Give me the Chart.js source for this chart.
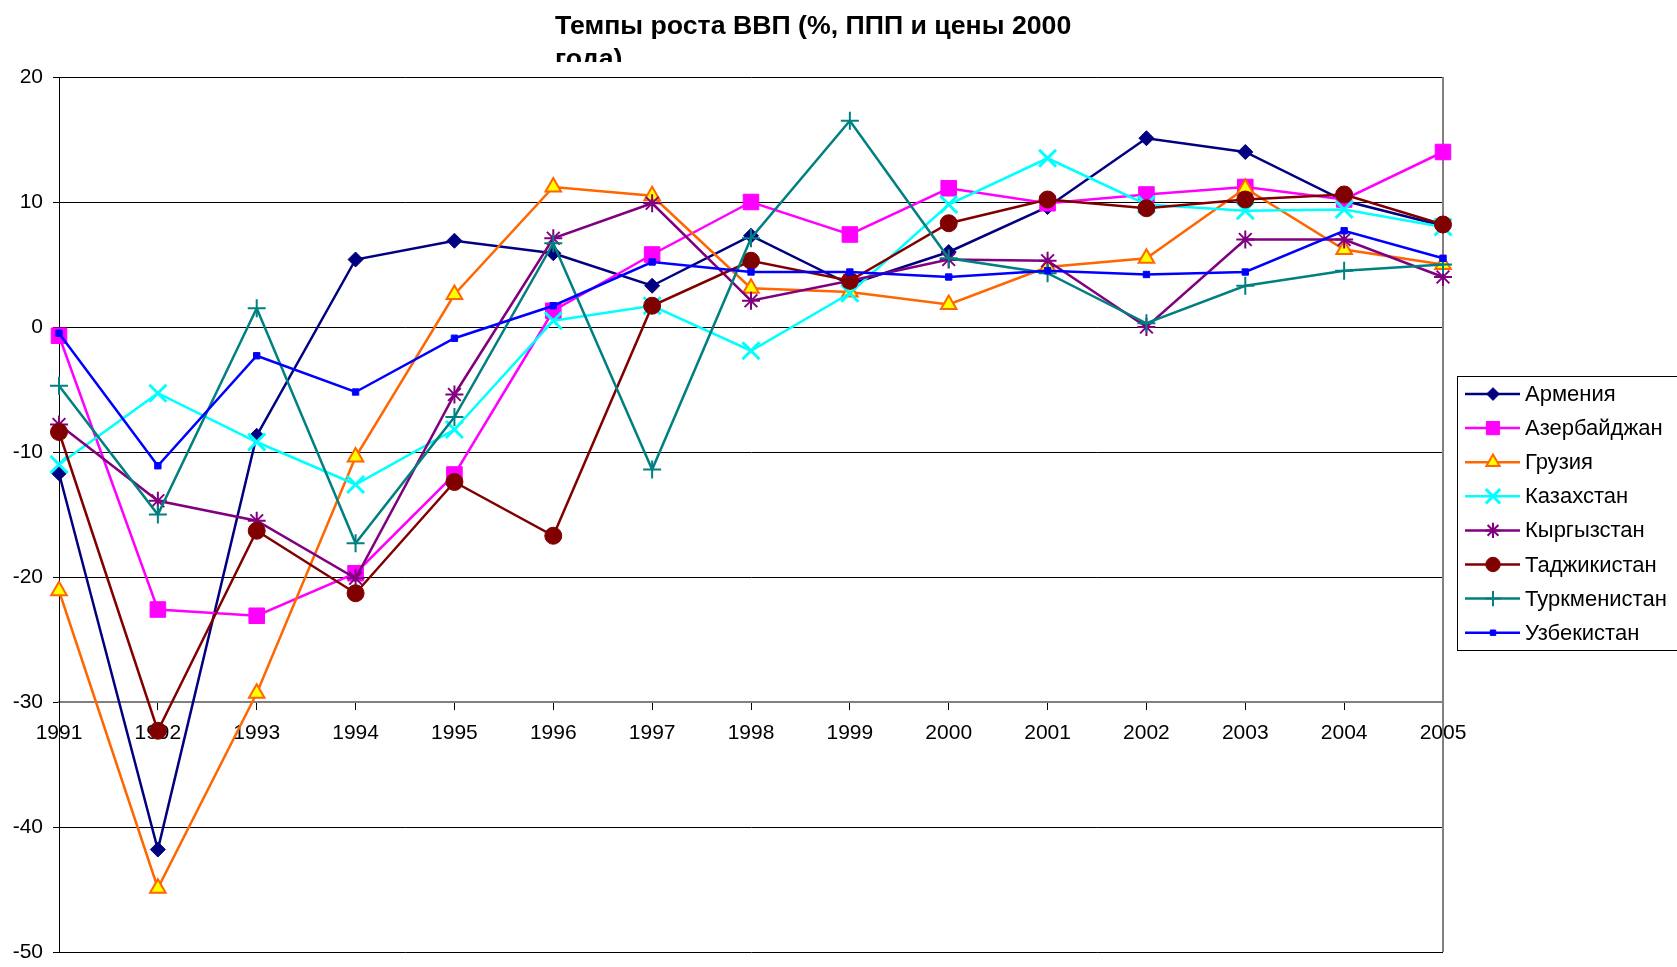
<!DOCTYPE html>
<html>
<head>
<meta charset="utf-8">
<script src="https://cdn.jsdelivr.net/npm/chart.js@4/dist/chart.umd.min.js"></script>
<style>
  body { margin: 0; background: #fff; }
</style>
</head>
<body>
<canvas id="grafico" width="1677" height="967"></canvas>
<script>
const titulo = ["Темпы роста ВВП (%, ППП и цены 2000", "года)"];
const anios = ["1991", "1992", "1993", "1994", "1995", "1996", "1997", "1998", "1999", "2000", "2001", "2002", "2003", "2004", "2005"];
const ticksY = [20, 10, 0, -10, -20, -30, -40, -50];

const armenia      = [-11.7, -41.8, -8.7, 5.4, 6.9, 5.9, 3.3, 7.3, 3.4, 6.0, 9.6, 15.1, 14.0, 10.1, 8.1];
const azerbaiyan   = [-0.7, -22.6, -23.1, -19.7, -11.8, 1.3, 5.8, 10.0, 7.4, 11.1, 9.9, 10.6, 11.2, 10.2, 14.0];
const georgia      = [-21.1, -44.9, -29.3, -10.4, 2.6, 11.2, 10.5, 3.1, 2.8, 1.8, 4.8, 5.5, 11.1, 6.2, 5.0];
const kazajistan   = [-11.0, -5.3, -9.2, -12.6, -8.2, 0.5, 1.7, -1.9, 2.7, 9.8, 13.5, 9.8, 9.3, 9.4, 8.0];
const kirguistan   = [-7.8, -13.9, -15.5, -20.1, -5.4, 7.1, 9.9, 2.1, 3.7, 5.4, 5.3, 0.0, 7.0, 7.0, 4.0];
const tayikistan   = [-8.4, -32.3, -16.3, -21.3, -12.4, -16.7, 1.7, 5.3, 3.7, 8.3, 10.2, 9.5, 10.2, 10.6, 8.2];
const turkmenistan = [-4.7, -15.0, 1.5, -17.3, -7.2, 6.7, -11.4, 7.1, 16.5, 5.5, 4.3, 0.3, 3.3, 4.5, 5.0];
const uzbekistan   = [-0.5, -11.1, -2.3, -5.2, -0.9, 1.7, 5.2, 4.4, 4.4, 4.0, 4.5, 4.2, 4.4, 7.7, 5.5];

const nombres = ["Армения", "Азербайджан", "Грузия", "Казахстан", "Кыргызстан", "Таджикистан", "Туркменистан", "Узбекистан"];
const series = [armenia, azerbaiyan, georgia, kazajistan, kirguistan, tayikistan, turkmenistan, uzbekistan];

// estilo de cada serie (linea, relleno del marcador, forma, tamaño)
const estilos = [
  { color: "#000080", fondo: "#000080", forma: "rectRot", radio: 7.5, borde: 1 },
  { color: "#FF00FF", fondo: "#FF00FF", forma: "rect", radio: 11, borde: 1 },
  { color: "#FF6600", fondo: "#FFFF00", forma: "triangle", radio: 9, borde: 2 },
  { color: "#00FFFF", fondo: "#00FFFF", forma: "crossRot", radio: 12, borde: 3 },
  { color: "#800080", fondo: "#800080", forma: "star", radio: 9, borde: 2 },
  { color: "#800000", fondo: "#800000", forma: "circle", radio: 8.5, borde: 1 },
  { color: "#008080", fondo: "#008080", forma: "cross", radio: 9, borde: 2 },
  { color: "#0000FF", fondo: "#0000FF", forma: "rect", radio: 4.5, borde: 1 },
];

const fuente = "'Liberation Sans', Arial, sans-serif";

const datasets = series.map((valores, i) => ({
  label: nombres[i],
  data: valores,
  borderColor: estilos[i].color,
  borderWidth: 2.5,
  pointStyle: estilos[i].forma,
  pointRadius: estilos[i].radio,
  pointBackgroundColor: estilos[i].fondo,
  pointBorderColor: estilos[i].color,
  pointBorderWidth: estilos[i].borde,
  tension: 0,
  clip: false,
  order: series.length - i, // la ultima serie queda encima, como en Excel
}));

const extras = {
  id: "extras",
  beforeDatasetsDraw(chart) {
    const { ctx, chartArea } = chart;
    ctx.save();
    ctx.strokeStyle = "#808080";
    ctx.lineWidth = 2;
    ctx.beginPath();
    ctx.moveTo(chartArea.right, chartArea.top);
    ctx.lineTo(chartArea.right, chartArea.bottom);
    ctx.stroke();
    ctx.restore();
  },
  afterDraw(chart) {
    const ctx = chart.ctx;

    // titulo (la segunda linea queda cortada)
    ctx.save();
    ctx.beginPath();
    ctx.rect(0, 0, chart.width, 62);
    ctx.clip();
    ctx.fillStyle = "#000";
    ctx.font = "bold 26.7px " + fuente;
    ctx.textAlign = "left";
    ctx.textBaseline = "alphabetic";
    ctx.fillText(titulo[0], 555, 34);
    ctx.fillText(titulo[1], 555, 67);
    ctx.restore();

    // leyenda
    ctx.save();
    ctx.strokeStyle = "#000";
    ctx.lineWidth = 1;
    ctx.strokeRect(1457.5, 376.5, 260, 274);
    ctx.font = "22px " + fuente;
    ctx.textBaseline = "middle";
    ctx.fillStyle = "#000";
    nombres.forEach((nombre, i) => {
      const y = 394 + i * 34.1;
      const e = estilos[i];
      ctx.strokeStyle = e.color;
      ctx.lineWidth = 2.5;
      ctx.beginPath();
      ctx.moveTo(1465, y);
      ctx.lineTo(1520, y);
      ctx.stroke();
      ctx.save();
      ctx.fillStyle = e.fondo;
      ctx.strokeStyle = e.color;
      ctx.lineWidth = e.borde;
      Chart.helpers.drawPoint(ctx, { pointStyle: e.forma, radius: e.radio * 0.85, rotation: 0, borderWidth: e.borde }, 1493, y);
      ctx.restore();
      ctx.fillStyle = "#000";
      ctx.fillText(nombre, 1525, y + 1);
    });
    ctx.restore();
  },
};

const ctx = document.getElementById("grafico").getContext("2d");
new Chart(ctx, {
  type: "line",
  data: {
    labels: anios,
    datasets: datasets,
  },
  options: {
    responsive: false,
    animation: false,
    events: [],
    layout: {
      padding: { left: 0, top: 77, right: 234, bottom: 12 },
    },
    plugins: {
      legend: { display: false },
      title: { display: false },
      tooltip: { enabled: false },
    },
    scales: {
      x: {
        type: "category",
        offset: false,
        position: { y: -30 },
        afterFit(scale) {
          scale.paddingTop = 0;
          scale.paddingBottom = 0;
        },
        grid: { display: true, drawOnChartArea: false, drawTicks: true, tickLength: 7, color: "#000", lineWidth: 1 },
        border: { display: true, color: "#808080", width: 2 },
        ticks: {
          color: "#000",
          font: { family: fuente, size: 21 },
          maxRotation: 0,
          autoSkip: false,
          padding: 12,
        },
      },
      y: {
        min: -50,
        max: 20,
        afterBuildTicks(scale) {
          scale.ticks = ticksY.map((v) => ({ value: v }));
        },
        afterFit(scale) {
          scale.width = 59;
          scale.paddingTop = 0;
          scale.paddingBottom = 0;
        },
        grid: { color: "#000", lineWidth: 1, tickLength: 6 },
        border: { display: true, color: "#000", width: 1 },
        ticks: {
          color: "#000",
          font: { family: fuente, size: 21 },
          padding: 10,
        },
      },
    },
  },
  plugins: [extras],
});
</script>
</body>
</html>
